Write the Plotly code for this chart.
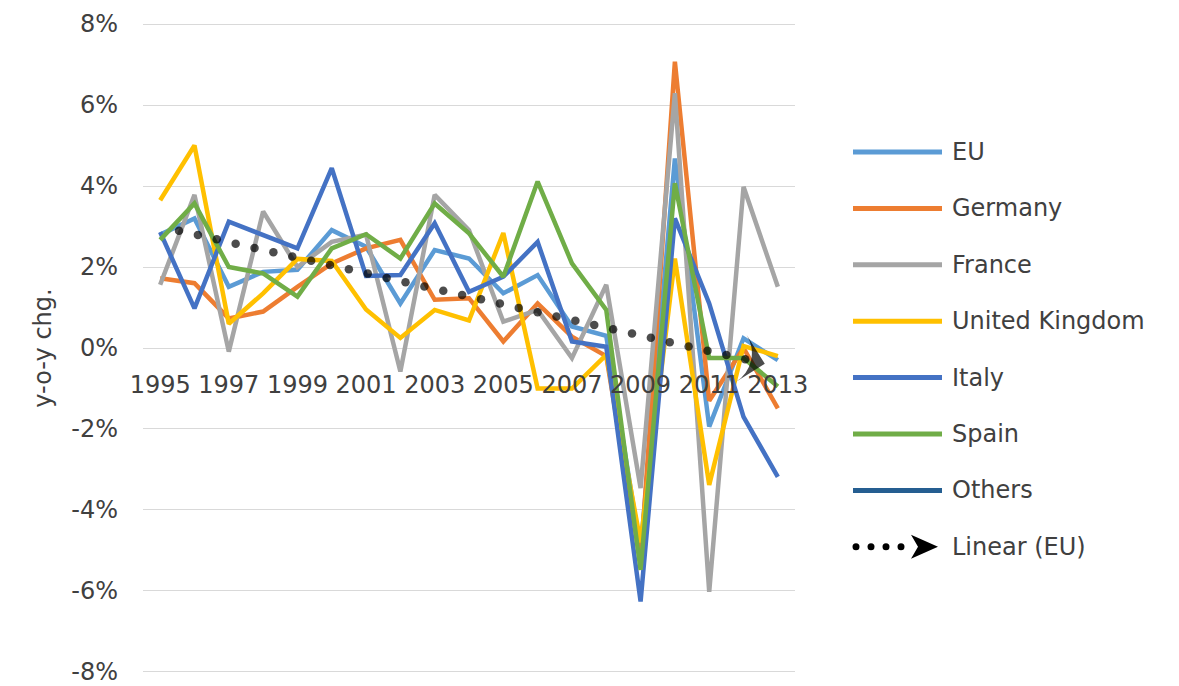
import numpy as np
import plotly.graph_objects as go

# Year-over-year change, % (1995-2013)
years = list(range(1995, 2014))
eu = [2.8, 3.2, 1.51, 1.88, 1.93, 2.91, 2.5, 1.1, 2.42, 2.21, 1.35, 1.8, 0.53, 0.3, -5.0, 4.68, -1.94, 0.24, -0.3]
germany = [1.72, 1.6, 0.73, 0.9, 1.51, 2.09, 2.46, 2.67, 1.19, 1.23, 0.16, 1.1, 0.28, -0.2, -5.3, 7.07, -1.3, 0.0, -1.49]
france = [1.56, 3.78, -0.09, 3.37, 2.0, 2.62, 2.8, -0.58, 3.78, 2.91, 0.65, 0.94, -0.25, 1.56, -3.46, 6.29, -6.02, 3.98, 1.51]
united_kingdom = [3.65, 5.0, 0.6, 1.35, 2.2, 2.15, 0.95, 0.25, 0.94, 0.68, 2.84, -1.0, -1.0, -0.17, -4.8, 2.21, -3.38, 0.05, -0.2]
italy = [2.86, 0.98, 3.12, 2.8, 2.46, 4.44, 1.78, 1.8, 3.08, 1.39, 1.76, 2.62, 0.16, 0.03, -6.26, 3.2, 1.1, -1.7, -3.18]
spain = [2.67, 3.57, 2.0, 1.84, 1.27, 2.46, 2.81, 2.21, 3.57, 2.83, 1.76, 4.11, 2.09, 0.94, -5.48, 4.07, -0.25, -0.25, -0.95]
others = [None] * len(years)

series_names = ["EU", "Germany", "France", "United Kingdom", "Italy", "Spain", "Others"]
series_values = [eu, germany, france, united_kingdom, italy, spain, others]
series_colors = ["#5B9BD5", "#ED7D31", "#A5A5A5", "#FFC000", "#4472C4", "#70AD47", "#255E91"]
trend_name = "Linear (EU)"

y_tick_vals = [-8, -6, -4, -2, 0, 2, 4, 6, 8]
y_tick_text = ["-8%", "-6%", "-4%", "-2%", "0%", "2%", "4%", "6%", "8%"]
x_tick_vals = years[::2]
x_tick_text = [str(y) for y in x_tick_vals]

FONT = "DejaVu Sans"
TEXT = "#404040"
W, H = 1179, 686
L, R, T, B = 143, 384, 22, 12
plot_w, plot_h = W - L - R, H - T - B


def px_x(px):
    return (px - L) / plot_w


def px_y(py):
    return (H - B - py) / plot_h


fig = go.Figure()

for name, vals, color in zip(series_names, series_values, series_colors):
    fig.add_trace(go.Scatter(
        x=years, y=vals, mode="lines", name=name,
        line=dict(color=color, width=4.5), showlegend=False,
    ))

# Least-squares trend of the EU series, drawn as round dots ending in an arrow
slope, intercept = np.polyfit(years, eu, 1)
trend_x = list(np.arange(1995, 2012.3, 0.55)) + [2012.62]
trend_y = [slope * x + intercept for x in trend_x]
n = len(trend_x)
fig.add_trace(go.Scatter(
    x=trend_x, y=trend_y, mode="markers", name=trend_name, showlegend=False,
    marker=dict(
        symbol=["circle"] * (n - 1) + ["arrow-wide"],
        size=[8.5] * (n - 1) + [34],
        color="#000000", angleref="previous", line=dict(width=0),
    ),
))

# Legend drawn at the right: long line samples and labels
shapes = []
annotations = []
legend_top, legend_step = 152, 56.4
for i, (name, color) in enumerate(zip(series_names, series_colors)):
    yc = legend_top + i * legend_step
    shapes.append(dict(type="line", xref="paper", yref="paper",
                       x0=px_x(853), x1=px_x(942), y0=px_y(yc), y1=px_y(yc),
                       line=dict(color=color, width=5)))
    annotations.append(dict(text=name, xref="paper", yref="paper",
                            x=px_x(950), y=px_y(yc), xanchor="left", yanchor="middle",
                            showarrow=False, font=dict(family=FONT, size=24, color=TEXT)))

yc = legend_top + len(series_names) * legend_step
for cx in [856, 871, 886, 901]:
    shapes.append(dict(type="circle", xref="paper", yref="paper",
                       x0=px_x(cx - 3.5), x1=px_x(cx + 3.5),
                       y0=px_y(yc + 3.5), y1=px_y(yc - 3.5),
                       fillcolor="black", line=dict(width=0)))
arrow_pts = [(938, yc), (911, yc - 12), (918, yc), (911, yc + 12)]
path = "M " + " L ".join(f"{px_x(a):.5f},{px_y(b):.5f}" for a, b in arrow_pts) + " Z"
shapes.append(dict(type="path", xref="paper", yref="paper", path=path,
                   fillcolor="black", line=dict(width=0)))
annotations.append(dict(text=trend_name, xref="paper", yref="paper",
                        x=px_x(950), y=px_y(yc), xanchor="left", yanchor="middle",
                        showarrow=False, font=dict(family=FONT, size=24, color=TEXT)))

# y range padded slightly so the ±8% gridlines and labels are kept
y_pad = 0.05
zero_frac = (8 + y_pad) / (16 + 2 * y_pad)

fig.update_layout(
    width=W, height=H,
    margin=dict(l=L, r=R, t=T, b=B, autoexpand=False),
    paper_bgcolor="white", plot_bgcolor="white",
    font=dict(family=FONT, size=24, color=TEXT),
    showlegend=False,
    shapes=shapes, annotations=annotations,
    xaxis=dict(
        range=[1994.5, 2013.5], tickvals=x_tick_vals, ticktext=x_tick_text,
        showgrid=False, zeroline=False, showline=False, ticks="",
        anchor="free", position=zero_frac, ticklabelstandoff=20,
        automargin=False,
        tickfont=dict(family=FONT, size=24, color=TEXT),
    ),
    yaxis=dict(
        range=[-8 - y_pad, 8 + y_pad], domain=[0, 1],
        tickvals=y_tick_vals, ticktext=y_tick_text,
        showgrid=True, gridcolor="#D9D9D9", gridwidth=1.3,
        zeroline=False, showline=False, ticks="", ticklabelstandoff=24,
        ticklabeloverflow="allow", automargin=False,
        tickfont=dict(family=FONT, size=24, color=TEXT),
        title=dict(text="y-o-y chg.", standoff=12,
                   font=dict(family=FONT, size=24, color=TEXT)),
    ),
)

fig.write_html("out.html")
